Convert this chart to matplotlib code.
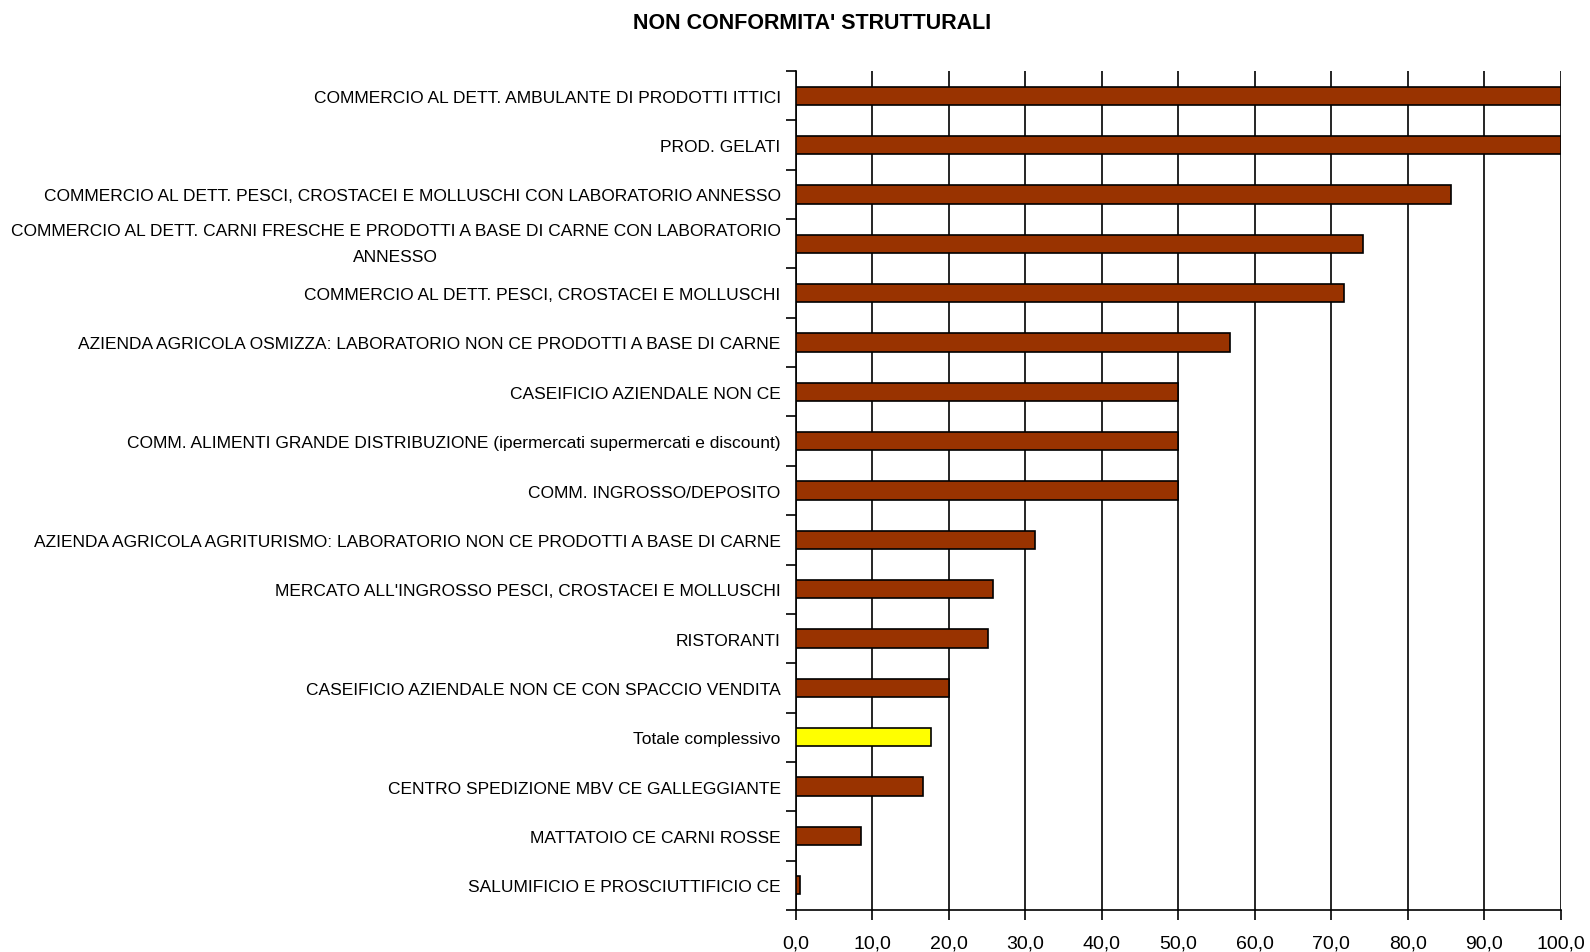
import matplotlib
matplotlib.use("Agg")
import matplotlib.pyplot as plt
from matplotlib.ticker import FuncFormatter, FixedLocator

title = "NON CONFORMITA' STRUTTURALI"

categories = [
    "COMMERCIO AL DETT. AMBULANTE DI PRODOTTI ITTICI",
    "PROD. GELATI",
    "COMMERCIO AL DETT. PESCI, CROSTACEI E MOLLUSCHI CON LABORATORIO ANNESSO",
    "COMMERCIO AL DETT. CARNI FRESCHE E PRODOTTI A BASE DI CARNE CON LABORATORIO\nANNESSO",
    "COMMERCIO AL DETT. PESCI, CROSTACEI E MOLLUSCHI",
    "AZIENDA AGRICOLA OSMIZZA: LABORATORIO NON CE PRODOTTI A BASE DI CARNE",
    "CASEIFICIO AZIENDALE NON CE",
    "COMM. ALIMENTI GRANDE DISTRIBUZIONE (ipermercati supermercati e discount)",
    "COMM. INGROSSO/DEPOSITO",
    "AZIENDA AGRICOLA AGRITURISMO: LABORATORIO NON CE PRODOTTI A BASE DI CARNE",
    "MERCATO ALL'INGROSSO PESCI, CROSTACEI E MOLLUSCHI",
    "RISTORANTI",
    "CASEIFICIO AZIENDALE NON CE CON SPACCIO VENDITA",
    "Totale complessivo",
    "CENTRO SPEDIZIONE MBV CE GALLEGGIANTE",
    "MATTATOIO CE CARNI ROSSE",
    "SALUMIFICIO E PROSCIUTTIFICIO CE",
]

values = [100.0, 100.0, 85.7, 74.1, 71.6, 56.8, 50.0, 50.0, 50.0,
          31.2, 25.8, 25.1, 20.0, 17.7, 16.6, 8.5, 0.5]

x_ticks = [0, 10, 20, 30, 40, 50, 60, 70, 80, 90, 100]

bar_color = "#993300"
total_color = "#FFFF00"
fonts = ["Liberation Sans", "DejaVu Sans"]

fig = plt.figure(figsize=(15.9, 9.53), dpi=100)
ax = fig.add_axes([0.5006, 0.0441, 0.9816 - 0.5006, 0.9244 - 0.0441])

n = len(categories)
ypos = list(range(n))
colors = [total_color if c == "Totale complessivo" else bar_color for c in categories]

ax.set_axisbelow(True)
ax.barh(ypos, values, height=0.37, color=colors, edgecolor="black",
        linewidth=1.2, zorder=3)

ax.set_xlim(0, 100)
ax.set_ylim(n - 0.5, -0.5)

# vertical gridlines at each major x tick
ax.xaxis.set_major_locator(FixedLocator(x_ticks))
ax.xaxis.set_major_formatter(FuncFormatter(lambda v, p: f"{v:.1f}".replace(".", ",")))
ax.grid(axis="x", color="black", linewidth=1.2, zorder=0)

# category labels on centers, tick marks on category boundaries
ax.set_yticks(ypos)
ax.set_yticklabels(categories, fontsize=12.5, family=fonts,
                   multialignment="center", linespacing=1.9)
ax.tick_params(axis="y", length=0, pad=11)
ax.set_yticks([i - 0.5 for i in range(n + 1)], minor=True)
ax.tick_params(axis="y", which="minor", length=7, width=1.2, color="black")
for lbl in ax.get_yticklabels():
    if "\n" in lbl.get_text():
        lbl.set_verticalalignment("center")

ax.tick_params(axis="x", length=7, width=1.2, color="black", labelsize=14, pad=11)
for lbl in ax.get_xticklabels():
    lbl.set_family(fonts)

for side in ("top", "right"):
    ax.spines[side].set_visible(False)
for side in ("left", "bottom"):
    ax.spines[side].set_linewidth(1.2)
    ax.spines[side].set_color("black")

fig.text(0.511, 0.975, title, ha="center", va="center", fontsize=15.5,
         fontweight="bold", family=fonts)

fig.savefig("out.png", dpi=100, facecolor="white")
